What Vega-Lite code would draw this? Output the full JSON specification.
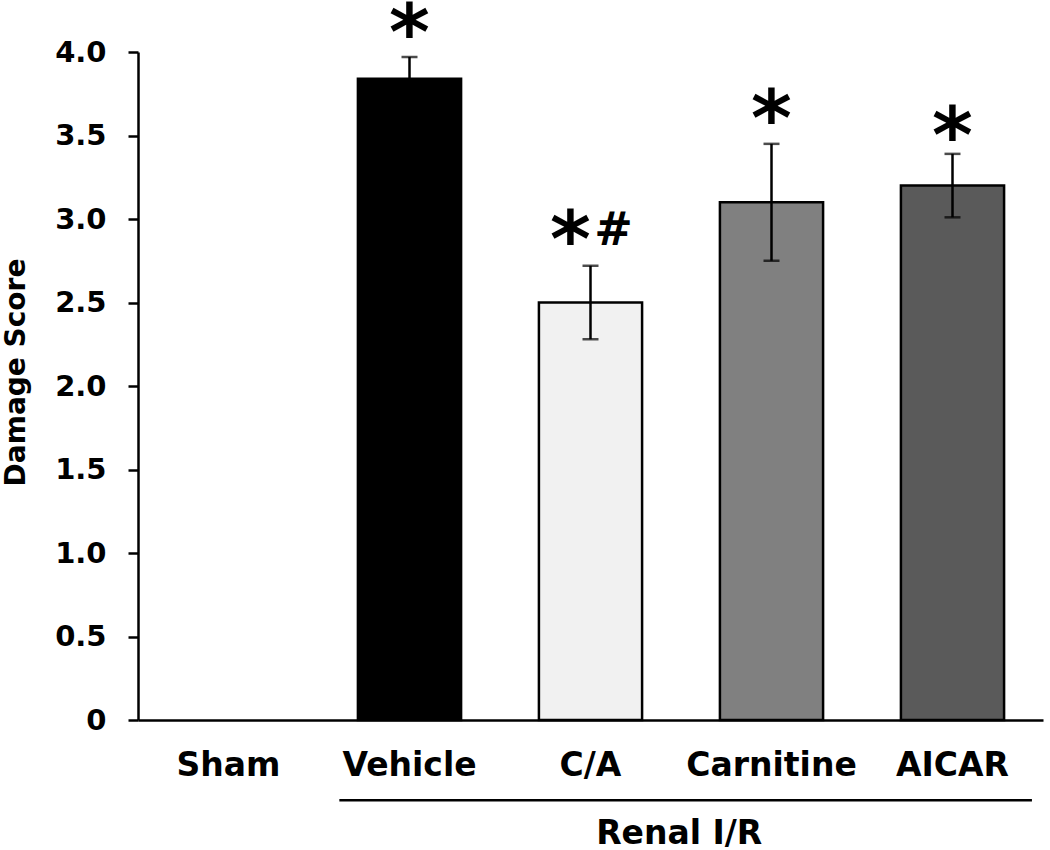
{
  "$schema": "https://vega.github.io/schema/vega-lite/v6.json",
  "width": 905,
  "height": 668,
  "autosize": {"type": "none"},
  "padding": {"left": 138, "top": 52, "right": 7, "bottom": 130},
  "background": "white",
  "config": {"view": {"stroke": null}, "font": "DejaVu Sans"},
  "datasets": {
    "bars": [
      {"group": "Sham", "mean": 0, "lo": null, "hi": null},
      {"group": "Vehicle", "mean": 3.84, "lo": 3.71, "hi": 3.97},
      {"group": "C/A", "mean": 2.50, "lo": 2.28, "hi": 2.72},
      {"group": "Carnitine", "mean": 3.10, "lo": 2.75, "hi": 3.45},
      {"group": "AICAR", "mean": 3.20, "lo": 3.01, "hi": 3.39}
    ],
    "stars": [
      {"group": "Vehicle", "y": 4.17, "label": "*", "shift": 0},
      {"group": "C/A", "y": 2.93, "label": "*", "shift": -20},
      {"group": "Carnitine", "y": 3.65, "label": "*", "shift": 0},
      {"group": "AICAR", "y": 3.55, "label": "*", "shift": 0}
    ],
    "hash": [{"group": "C/A", "y": 2.93, "label": "#"}],
    "bracket": [{"a": "Vehicle", "b": "AICAR", "y": -0.48}],
    "brlabel": [{"group": "C/A", "y": -0.745, "label": "Renal I/R"}]
  },
  "encoding": {
    "x": {
      "field": "group", "type": "nominal",
      "scale": {"domain": ["Sham", "Vehicle", "C/A", "Carnitine", "AICAR"], "paddingInner": 0.43, "paddingOuter": 0.215},
      "axis": {"title": null, "labelAngle": 0, "ticks": false, "domainColor": "black", "domainWidth": 2.5,
        "labelFont": "DejaVu Sans", "labelFontWeight": "bold", "labelFontSize": 33, "labelColor": "black", "labelPadding": 29}
    }
  },
  "layer": [
    {
      "data": {"name": "bars"},
      "transform": [{"filter": "datum.mean > 0"}],
      "mark": {"type": "bar", "stroke": "black", "strokeWidth": 2.5},
      "encoding": {
        "y": {
          "field": "mean", "type": "quantitative",
          "scale": {"domain": [0, 4], "nice": false},
          "axis": {"title": "Damage Score", "titleFont": "DejaVu Sans", "titleFontWeight": "bold", "titleFontSize": 28, "titleColor": "black", "titlePadding": 24, "titleY": 320,
            "values": [0, 0.5, 1, 1.5, 2, 2.5, 3, 3.5, 4],
            "labelExpr": "datum.value == 0 ? '0' : format(datum.value, '.1f')",
            "labelFont": "DejaVu Sans", "labelFontWeight": "bold", "labelFontSize": 29, "labelColor": "black", "labelPadding": 22,
            "grid": false, "tickSize": 10, "tickWidth": 2.5, "tickColor": "black", "domainColor": "black", "domainWidth": 2.5}
        },
        "fill": {
          "field": "group", "type": "nominal", "legend": null,
          "scale": {"domain": ["Vehicle", "C/A", "Carnitine", "AICAR"], "range": ["#000000", "#f1f1f1", "#808080", "#5a5a5a"]}
        }
      }
    },
    {
      "data": {"name": "bars"},
      "transform": [{"filter": "datum.hi != null"}],
      "mark": {"type": "rule", "color": "black", "strokeWidth": 2.5},
      "encoding": {"y": {"field": "lo", "type": "quantitative"}, "y2": {"field": "hi"}}
    },
    {
      "data": {"name": "bars"},
      "transform": [{"filter": "datum.hi != null"}],
      "mark": {"type": "tick", "color": "black", "size": 16, "thickness": 2.5, "orient": "horizontal"},
      "encoding": {"y": {"field": "hi", "type": "quantitative"}}
    },
    {
      "data": {"name": "bars"},
      "transform": [{"filter": "datum.hi != null"}],
      "mark": {"type": "tick", "color": "black", "size": 16, "thickness": 2.5, "orient": "horizontal"},
      "encoding": {"y": {"field": "lo", "type": "quantitative"}}
    },
    {
      "data": {"name": "stars"},
      "transform": [{"filter": "datum.shift == 0"}],
      "mark": {"type": "text", "font": "DejaVu Sans", "fontWeight": "bold", "fontSize": 78, "baseline": "middle", "align": "center", "dy": 13, "clip": false, "color": "black"},
      "encoding": {
        "x": {"field": "group", "type": "nominal"},
        "y": {"field": "y", "type": "quantitative"},
        "text": {"field": "label"}
      }
    },
    {
      "data": {"name": "stars"},
      "transform": [{"filter": "datum.shift != 0"}],
      "mark": {"type": "text", "font": "DejaVu Sans", "fontWeight": "bold", "fontSize": 78, "baseline": "middle", "align": "center", "dy": 13, "dx": -20, "clip": false, "color": "black"},
      "encoding": {
        "x": {"field": "group", "type": "nominal"},
        "y": {"field": "y", "type": "quantitative"},
        "text": {"field": "label"}
      }
    },
    {
      "data": {"name": "hash"},
      "mark": {"type": "text", "font": "DejaVu Sans", "fontWeight": "bold", "fontSize": 46, "baseline": "middle", "align": "center", "dx": 23, "clip": false, "color": "black"},
      "encoding": {
        "x": {"field": "group", "type": "nominal"},
        "y": {"field": "y", "type": "quantitative"},
        "text": {"field": "label"}
      }
    },
    {
      "data": {"name": "bracket"},
      "mark": {"type": "rule", "color": "black", "strokeWidth": 2.5, "clip": false},
      "encoding": {
        "x": {"field": "a", "type": "nominal", "bandPosition": -0.18},
        "x2": {"field": "b", "bandPosition": 1.27},
        "y": {"field": "y", "type": "quantitative"}
      }
    },
    {
      "data": {"name": "brlabel"},
      "mark": {"type": "text", "font": "DejaVu Sans", "fontWeight": "bold", "fontSize": 33, "baseline": "alphabetic", "align": "center", "clip": false, "color": "black"},
      "encoding": {
        "x": {"field": "group", "type": "nominal", "bandPosition": 1.36},
        "y": {"field": "y", "type": "quantitative"},
        "text": {"field": "label"}
      }
    }
  ]
}
